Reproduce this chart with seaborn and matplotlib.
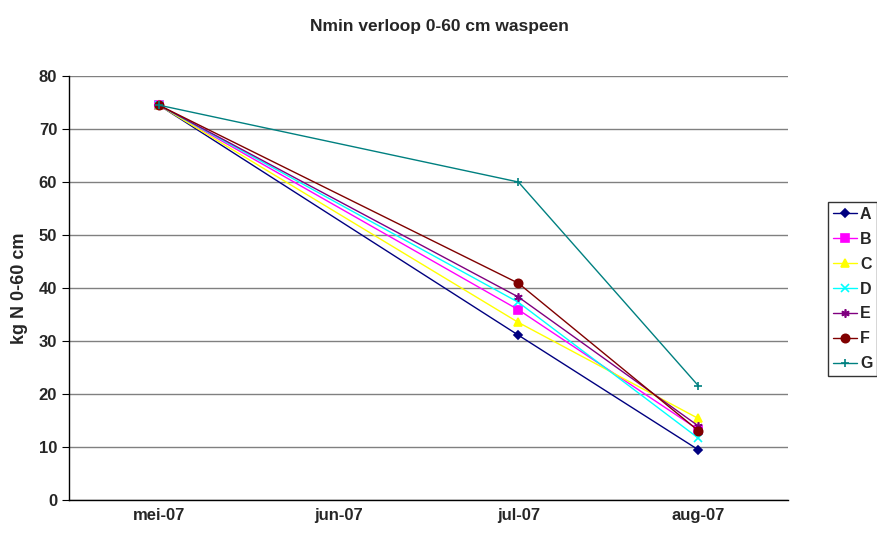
import pandas as pd
import seaborn as sns
import matplotlib.pyplot as plt

months = ["mei-07", "jun-07", "jul-07", "aug-07"]
measured_at = [0, 2, 3]  # no measurement in jun-07
series = ["A", "B", "C", "D", "E", "F", "G"]
values = {
    "A": [74.5, 31.1, 9.5],
    "B": [74.5, 35.9, 13.3],
    "C": [74.5, 33.5, 15.4],
    "D": [74.5, 37.3, 11.7],
    "E": [74.5, 38.3, 14.0],
    "F": [74.5, 40.9, 13.1],
    "G": [74.5, 60.0, 21.6],
}
colors = ["#000080", "#FF00FF", "#FFFF00", "#00FFFF", "#800080", "#800000", "#008080"]
markers = ["D", "s", "^", "x", (6, 2, 0), "o", "+"]
msizes = [4.5, 6, 6, 6, 6, 6, 6]

sns.set_style("white")
plt.rcParams["font.family"] = ["Liberation Sans", "DejaVu Sans"]

fig = plt.figure(figsize=(8.78, 5.36), dpi=100)
ax = fig.add_axes([69 / 878, 1 - 500 / 536, 719 / 878, 424 / 536])

# one call per series: filled and line-art markers can't share one lineplot
for s, c, m, ms in zip(series, colors, markers, msizes):
    d = pd.DataFrame({"maand": measured_at, "Nmin": values[s]})
    sns.lineplot(data=d, x="maand", y="Nmin", color=c, marker=m, linewidth=1,
                 markersize=ms, markeredgewidth=1.2, markeredgecolor=c, ax=ax, label=s)

ax.set_xlim(-0.5, 3.5)
ax.set_ylim(0, 80)
ax.set_yticks(range(0, 81, 10))
ax.yaxis.grid(True, color="#808080", linewidth=1)
ax.set_axisbelow(True)
ax.set_xticks(range(4))
ax.set_xticklabels(months, fontweight="bold", fontsize=12)
ax.set_xticks([-0.5, 0.5, 1.5, 2.5, 3.5], minor=True)
ax.tick_params(axis="x", which="major", length=0, pad=6)
ax.tick_params(axis="x", which="minor", length=5, direction="out", color="black")
ax.tick_params(axis="y", length=5, direction="out", left=True, color="black", labelsize=12)
for lab in ax.get_yticklabels():
    lab.set_fontweight("bold")
for side in ["top", "right"]:
    ax.spines[side].set_visible(False)
for side in ["left", "bottom"]:
    ax.spines[side].set_color("black")
    ax.spines[side].set_linewidth(1)
ax.set_xlabel("")
ax.set_ylabel("kg N 0-60 cm", fontweight="bold", fontsize=13, labelpad=8)

fig.suptitle("Nmin verloop 0-60 cm waspeen", fontweight="bold", fontsize=12.5, y=1 - 27 / 536, va="center")

handles, labels = ax.get_legend_handles_labels()
ax.get_legend().remove()
leg = fig.legend(handles, labels, loc="upper left", bbox_to_anchor=(828 / 878, 1 - 202 / 536),
                 borderaxespad=0, frameon=True, fancybox=False, handlelength=1.5,
                 handletextpad=0.2, labelspacing=0.62, borderpad=0.3,
                 prop={"weight": "bold", "size": 11.5})
leg.get_frame().set_edgecolor("black")
leg.get_frame().set_linewidth(1)

fig.savefig("out.png", dpi=100)
